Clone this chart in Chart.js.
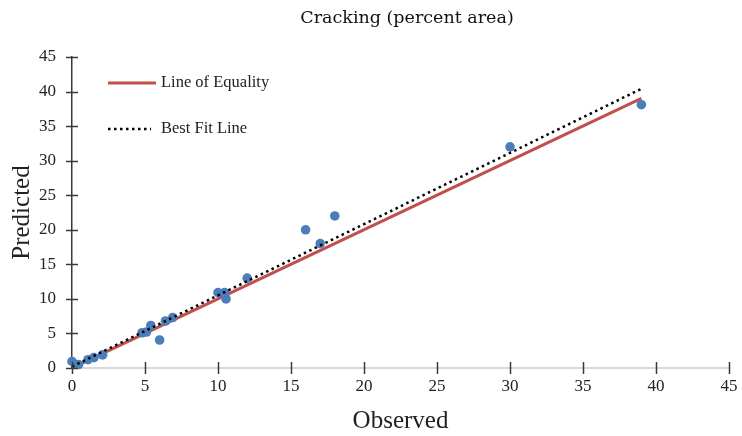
<!DOCTYPE html>
<html><head><meta charset="utf-8">
<script src="https://cdn.jsdelivr.net/npm/chart.js@4"></script>
<style>html,body{margin:0;padding:0;background:#fff;overflow:hidden}#wrap{width:742px;height:436px;position:relative}</style>
</head><body><div id="wrap"><canvas id="c" width="742" height="436" style="width:742px;height:436px"></canvas></div>
<script>
const chartTitle = 'Cracking (percent area)';
const xTitle = 'Observed';
const yTitle = 'Predicted';
const axisTicks = [0, 5, 10, 15, 20, 25, 30, 35, 40, 45];
const observed  = [0, 0.45, 1.1, 1.5, 2.1, 4.8, 5.1, 5.4, 6.0, 6.4, 6.9, 10.0, 10.45, 10.55, 12.0, 16.0, 17.0, 18.0, 30.0, 39.0];
const predicted = [0.95, 0.5, 1.2, 1.5, 1.9, 5.1, 5.2, 6.15, 4.05, 6.8, 7.3, 10.9, 10.9, 10.0, 13.0, 20.0, 18.0, 22.0, 32.0, 38.1];
const equalityX = [0, 39];
const equalityY = [0, 39];
const bestFitX = [0, 39];
const bestFitY = [0.2, 40.4];
const equalityLabel = 'Line of Equality';
const bestFitLabel = 'Best Fit Line';

const serif = '"Liberation Serif", "Times New Roman", serif';

const crossTicks = {
  id: 'crossTicks',
  afterDraw(chart) {
    const {ctx, chartArea: a, scales: {x, y}} = chart;
    ctx.save();
    ctx.strokeStyle = '#3a3a3a';
    ctx.lineWidth = 1.5;
    ctx.beginPath();
    axisTicks.forEach(v => {
      const px = Math.round(x.getPixelForValue(v)) + 0.5;
      ctx.moveTo(px, a.bottom - 6); ctx.lineTo(px, a.bottom + 6);
      const py = Math.round(y.getPixelForValue(v)) + 0.5;
      ctx.moveTo(a.left - 6, py); ctx.lineTo(a.left + 6, py);
    });
    ctx.stroke();
    ctx.restore();
  }
};

const titleAndLegend = {
  id: 'titleAndLegend',
  afterDraw(chart) {
    const {ctx} = chart;
    ctx.save();
    ctx.fillStyle = '#111111';
    ctx.font = '17.5px "DejaVu Serif", serif';
    ctx.textAlign = 'center';
    ctx.textBaseline = 'middle';
    ctx.fillText(chartTitle, 407, 18);
    const ds = chart.data.datasets;
    const items = [ds[0], ds[2]];
    const rows = [83, 129];
    ctx.font = '16.5px ' + serif;
    ctx.textAlign = 'left';
    items.forEach((d, i) => {
      const yy = rows[i];
      ctx.beginPath();
      ctx.strokeStyle = d.borderColor;
      ctx.lineWidth = d.borderWidth;
      ctx.setLineDash(d.borderDash || []);
      ctx.moveTo(108, yy);
      ctx.lineTo(i === 0 ? 156 : 151, yy);
      ctx.stroke();
      ctx.setLineDash([]);
      ctx.fillStyle = '#222222';
      ctx.fillText(d.label, 161, yy);
    });
    ctx.restore();
  }
};

new Chart(document.getElementById('c'), {
  type: 'scatter',
  data: {
    datasets: [
      {
        type: 'line', label: equalityLabel,
        data: equalityX.map((v, i) => ({x: v, y: equalityY[i]})),
        borderColor: '#c0504d', borderWidth: 3, pointRadius: 0, fill: false, order: 3
      },
      {
        label: 'Data',
        data: observed.map((v, i) => ({x: v, y: predicted[i]})),
        backgroundColor: '#4a7ebb', borderColor: '#4a7ebb', pointRadius: 4.8, pointBorderWidth: 0, order: 2, clip: false
      },
      {
        type: 'line', label: bestFitLabel,
        data: bestFitX.map((v, i) => ({x: v, y: bestFitY[i]})),
        borderColor: '#000000', borderWidth: 2.5, borderDash: [2.5, 3.5], pointRadius: 0, fill: false, order: 1
      }
    ]
  },
  options: {
    responsive: false,
    animation: false,
    devicePixelRatio: 1,
    layout: {padding: {top: 57, right: 13, bottom: 0, left: 0}},
    plugins: {legend: {display: false}, title: {display: false}, tooltip: {enabled: false}},
    scales: {
      x: {
        type: 'linear', min: 0, max: 45,
        afterBuildTicks: s => { s.ticks = axisTicks.map(v => ({value: v})); },
        afterFit: s => { s.height = 68; s.paddingRight = 0; s.paddingLeft = 0; },
        grid: {display: false, drawTicks: false, tickLength: 0},
        border: {display: true, color: '#d9d9d9', width: 2},
        ticks: {font: {family: serif, size: 17}, color: '#222222', padding: 8, maxRotation: 0},
        title: {display: true, text: xTitle, font: {family: serif, size: 25}, color: '#222222', padding: {top: 0, bottom: 0}}
      },
      y: {
        type: 'linear', min: 0, max: 45,
        afterBuildTicks: s => { s.ticks = axisTicks.map(v => ({value: v})); },
        afterFit: s => { s.width = 72; s.paddingTop = 0; s.paddingBottom = 0; },
        grid: {display: false, drawTicks: false, tickLength: 0},
        border: {display: true, color: '#3a3a3a', width: 1.5},
        ticks: {font: {family: serif, size: 17}, color: '#222222', padding: 16},
        title: {display: true, text: yTitle, font: {family: serif, size: 25}, color: '#222222', padding: {top: 7, bottom: 0}}
      }
    }
  },
  plugins: [crossTicks, titleAndLegend]
});
</script>
</body></html>
